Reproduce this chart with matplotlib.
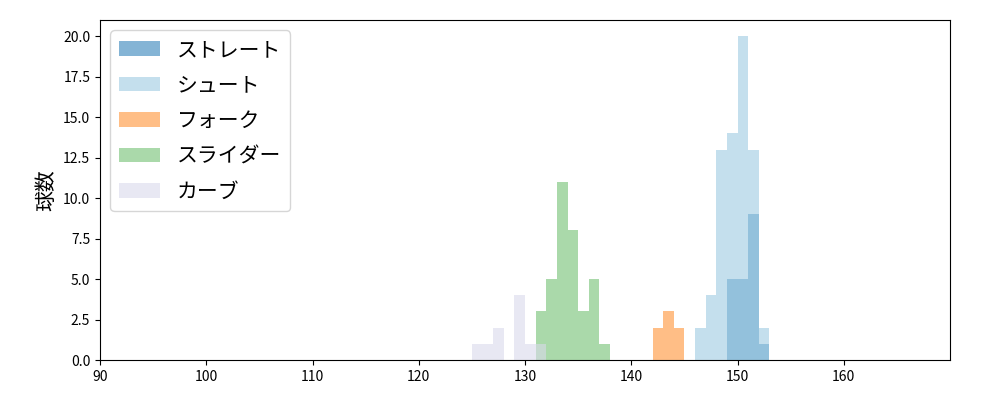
import matplotlib
matplotlib.use("Agg")
import matplotlib.pyplot as plt

plt.rcParams['font.family'] = ['Noto Sans CJK JP', 'DejaVu Sans']

straight_bins = [149, 150, 151, 152]
straight_counts = [5, 5, 9, 1]
shoot_bins = [146, 147, 148, 149, 150, 151, 152]
shoot_counts = [2, 4, 13, 14, 20, 13, 2]
fork_bins = [142, 143, 144]
fork_counts = [2, 3, 2]
slider_bins = [131, 132, 133, 134, 135, 136, 137]
slider_counts = [3, 5, 11, 8, 3, 5, 1]
curve_bins = [125, 126, 127, 128, 129, 130, 131]
curve_counts = [1, 1, 2, 0, 4, 1, 1]

fig, ax = plt.subplots(figsize=(10, 4), dpi=100)
series = [
    ("ストレート", straight_bins, straight_counts, "#1f77b4", 0.55),
    ("シュート", shoot_bins, shoot_counts, "#9ecae1", 0.6),
    ("フォーク", fork_bins, fork_counts, "#ff7f0e", 0.5),
    ("スライダー", slider_bins, slider_counts, "#2ca02c", 0.4),
    ("カーブ", curve_bins, curve_counts, "#dadaeb", 0.6),
]
for name, b, c, col, a in series:
    ax.bar(b, c, width=1, align='edge', color=col, alpha=a, label=name)

ax.set_xlim(90, 170)
ax.set_xticks(range(90, 161, 10))
ax.set_ylim(0, 21)
ax.set_yticks([0, 2.5, 5, 7.5, 10, 12.5, 15, 17.5, 20])
ax.set_ylabel("球数", fontsize=15)
ax.legend(loc='upper left', fontsize=15, labelspacing=0.65)
fig.subplots_adjust(left=0.1, right=0.95, top=0.95, bottom=0.1)
fig.savefig("out.png")
